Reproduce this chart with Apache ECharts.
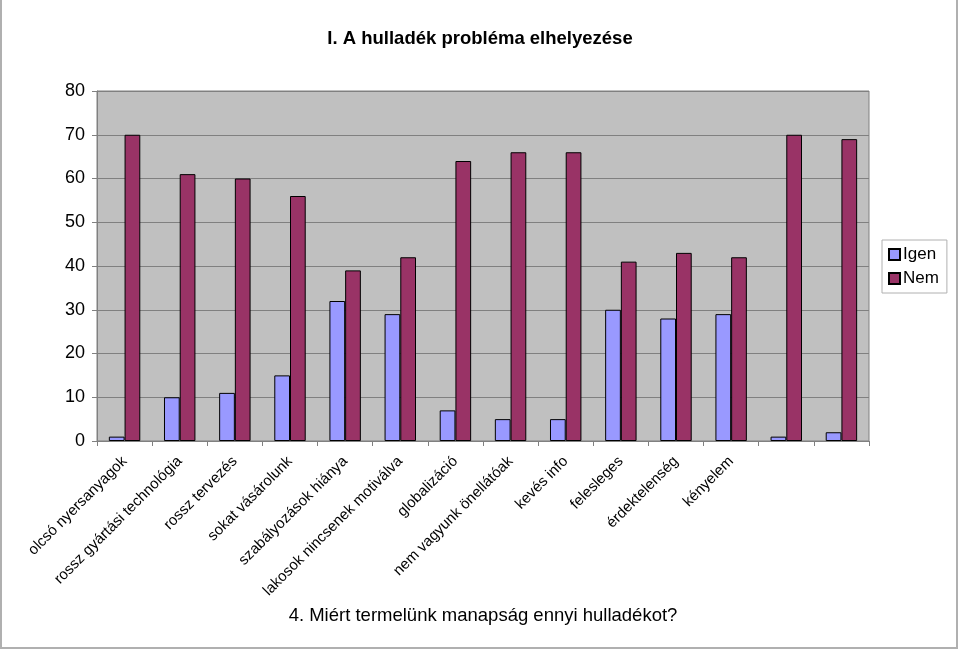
<!DOCTYPE html>
<html>
<head>
<meta charset="utf-8">
<script src="https://cdn.jsdelivr.net/npm/echarts@6/dist/echarts.min.js"></script>
<style>
  html, body { margin: 0; padding: 0; background: #fff; }
  #chart { width: 960px; height: 651px; }
</style>
</head>
<body>
<div id="chart"></div>
<script>
// kategóriák (az utolsó kettőnek nincs felirata)
var categories = [
  "olcsó nyersanyagok", "rossz gyártási technológia", "rossz tervezés",
  "sokat vásárolunk", "szabályozások hiánya", "lakosok nincsenek motiválva",
  "globalizáció", "nem vagyunk önellátóak", "kevés info", "felesleges",
  "érdektelenség", "kényelem", "", ""
];
var igen = [1, 10, 11, 15, 32, 29, 7, 5, 5, 30, 28, 29, 1, 2];
var nem = [70, 61, 60, 56, 39, 42, 64, 66, 66, 41, 43, 42, 70, 69];
var yTicks = [0, 10, 20, 30, 40, 50, 60, 70, 80];

var myChart = echarts.init(document.getElementById("chart"));
var font = "Liberation Sans, Arial, sans-serif";

var option = {
  backgroundColor: "#fff",
  animation: false,
  title: {
    text: "I. A hulladék probléma elhelyezése",
    left: "center",
    top: 24,
    textStyle: { fontFamily: font, fontSize: 18.5, fontWeight: "bold", color: "#000" }
  },
  graphic: [
    {
      // keret (bal, lent, jobb)
      type: "polyline",
      shape: { points: [[1, 0], [1, 648], [957, 648], [957, 0]] },
      style: { fill: "none", stroke: "#b0b0b0", lineWidth: 2 },
      silent: true
    }
  ],
  legend: {
    orient: "vertical",
    left: 882,
    top: 240,
    itemWidth: 11,
    itemHeight: 11,
    itemGap: 7,
    padding: [6, 8, 6, 6],
    borderColor: "#b0b0b0",
    borderWidth: 1,
    icon: "rect",
    textStyle: { fontFamily: font, fontSize: 17, color: "#000", padding: [0, 0, 0, -2] },
    data: ["Igen", "Nem"]
  },
  grid: {
    left: 97,
    right: 91,
    top: 91,
    bottom: 210,
    show: true,
    backgroundColor: "#c0c0c0",
    borderColor: "#808080",
    borderWidth: 1
  },
  xAxis: {
    type: "category",
    data: categories,
    name: "4. Miért termelünk manapság ennyi hulladékot?",
    nameLocation: "middle",
    nameGap: 165,
    nameTextStyle: { fontFamily: font, fontSize: 18.5, color: "#000" },
    axisLine: { lineStyle: { color: "#808080" } },
    axisTick: { show: true, alignWithLabel: false, length: 5, lineStyle: { color: "#808080" } },
    axisLabel: {
      interval: 0,
      rotate: 45,
      margin: 18,
      fontFamily: font,
      fontSize: 15,
      color: "#000"
    }
  },
  yAxis: {
    type: "value",
    min: yTicks[0],
    max: yTicks[yTicks.length - 1],
    interval: 10,
    axisLine: { show: true, lineStyle: { color: "#808080" } },
    axisTick: { show: true, length: 5, lineStyle: { color: "#808080" } },
    splitLine: { lineStyle: { color: "#808080" } },
    axisLabel: { fontFamily: font, fontSize: 18, color: "#000", margin: 12 }
  },
  series: [
    {
      name: "Igen",
      type: "bar",
      data: igen,
      barGap: "0%",
      barCategoryGap: "43%",
      itemStyle: { color: "#9999ff", borderColor: "#000", borderWidth: 1 }
    },
    {
      name: "Nem",
      type: "bar",
      data: nem,
      itemStyle: { color: "#993366", borderColor: "#000", borderWidth: 1 }
    }
  ]
};

myChart.setOption(option);
</script>
</body>
</html>
